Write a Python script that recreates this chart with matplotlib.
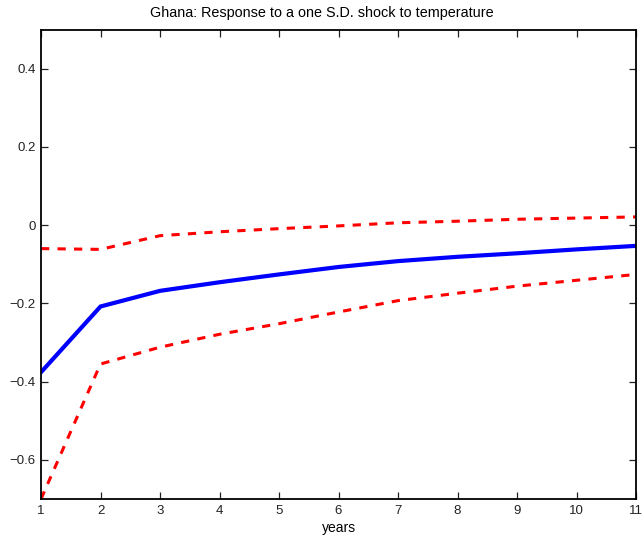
import matplotlib
matplotlib.use("Agg")
import matplotlib.pyplot as plt

plt.rcParams['font.family'] = ['Liberation Sans', 'DejaVu Sans']

years = [1, 2, 3, 4, 5, 6, 7, 8, 9, 10, 11]
response = [-0.376, -0.208, -0.168, -0.146, -0.126, -0.107, -0.092, -0.081, -0.072, -0.062, -0.053]
upper_band = [-0.060, -0.062, -0.027, -0.017, -0.009, -0.002, 0.006, 0.010, 0.015, 0.018, 0.021]
lower_band = [-0.700, -0.355, -0.312, -0.279, -0.252, -0.222, -0.193, -0.174, -0.156, -0.141, -0.126]
x_ticks = [1, 2, 3, 4, 5, 6, 7, 8, 9, 10, 11]
y_ticks = [-0.6, -0.4, -0.2, 0, 0.2, 0.4]
y_tick_labels = ['\u22120.6', '\u22120.4', '\u22120.2', '0', '0.2', '0.4']

fig = plt.figure(figsize=(6.42, 5.42), dpi=100)
ax = fig.add_axes([41 / 642, 1 - 499 / 542, 595 / 642, 469.5 / 542])

dash = (0, (2.7, 2.7))
ax.plot(years, upper_band, color='red', linestyle=dash, linewidth=2.2)
ax.plot(years, lower_band, color='red', linestyle=dash, linewidth=2.2)
ax.plot(years, response, color='#0000ff', linewidth=3.0, solid_joinstyle='miter')

ax.set_xlim(1, 11)
ax.set_ylim(-0.7, 0.5)
ax.set_xticks(x_ticks)
ax.set_yticks(y_ticks)
ax.set_yticklabels(y_tick_labels)
ax.tick_params(direction='in', length=5, width=0.9, top=True, right=True,
               labelsize=9.5, pad=4, colors='#222222')
for s in ax.spines.values():
    s.set_linewidth(1.3)
ax.set_xlabel('years', fontsize=10, labelpad=3)
fig.text(321.5 / 642, 1 - 13.5 / 542, 'Ghana: Response to a one S.D. shock to temperature',
         fontsize=10.35, ha='center', va='center')

fig.savefig('out.png', dpi=100)
